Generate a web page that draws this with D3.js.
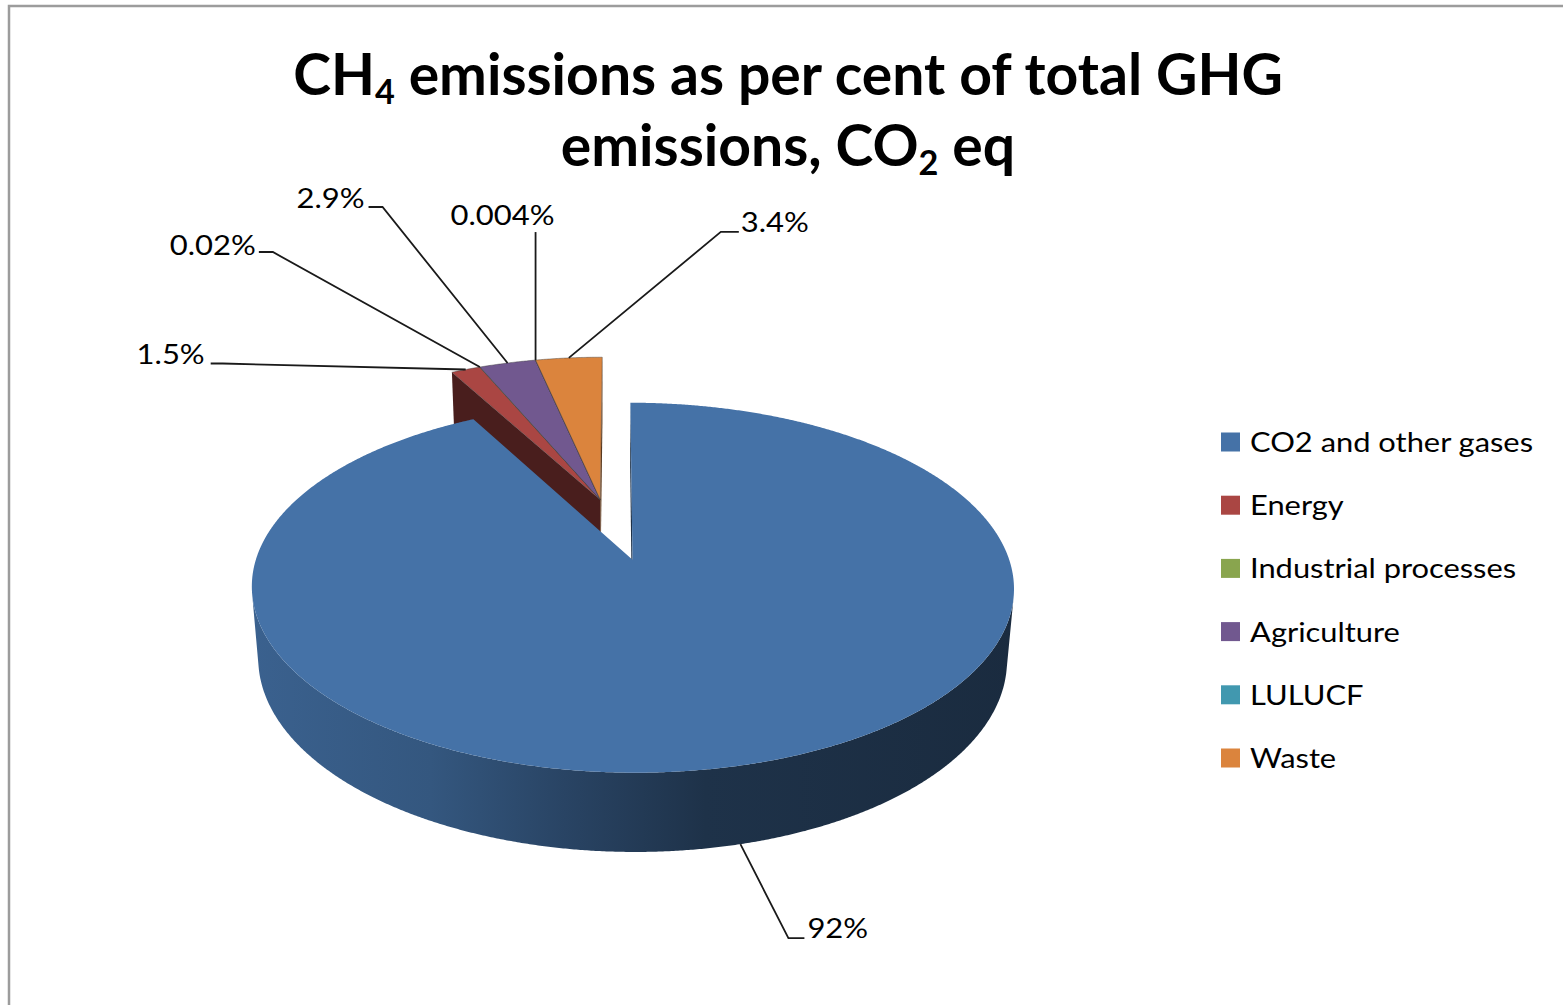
<!DOCTYPE html>
<html>
<head>
<meta charset="utf-8">
<script src="https://cdn.jsdelivr.net/npm/d3@7"></script>
<style>
  body { margin: 0; background: #fff; }
  svg { display: block; }
  text { font-family: Lato, "Open Sans", sans-serif; fill: #000; }
</style>
</head>
<body>
<svg id="chart" width="1563" height="1005"></svg>
<script>
// data
var categories = ["CO2 and other gases", "Energy", "Industrial processes", "Agriculture", "LULUCF", "Waste"];
var values = [92, 1.5, 0.02, 2.9, 0.004, 3.4];
var valueLabels = ["92%", "1.5%", "0.02%", "2.9%", "0.004%", "3.4%"];
var colors = ["#4572A7", "#AA4643", "#89A54E", "#71588F", "#4198AF", "#DB843D"];

// where each data label sits, relative to the point on its slice
var labelLayout = [
  {dx: 64, dy: 94, elbow: -16, tx: 3, ty: 0, anchor: "start"},
  {dx: -255, dy: -6, elbow: 12, tx: -6, ty: 0, anchor: "end"},
  {dx: -221, dy: -115, elbow: 14, tx: -3, ty: 3, anchor: "end"},
  {dx: -139, dy: -156, elbow: 14, tx: -4, ty: 1, anchor: "end"},
  {dx: 0, dy: -128, elbow: 0, tx: -33, ty: -7, anchor: "middle"},
  {dx: 170, dy: -126, elbow: -18, tx: 2, ty: 0, anchor: "start"}
];

var svg = d3.select("#chart");

// chart area frame (only top and left edges are inside the picture)
svg.append("rect")
  .attr("x", 9).attr("y", 6)
  .attr("width", 1700).attr("height", 1200)
  .attr("fill", "#fff")
  .attr("stroke", "#9c9c9c")
  .attr("stroke-width", 2.5);

// ---- 3d pie projection ----
var cx = 616, cy = 529, R = 367, dist = 6, tilt = 0.4675, ct = Math.sqrt(1 - tilt * tilt);
var explode = 0.18, depth = 0.219;
var F = R * dist;
var camV = dist * ct;   // camera position along the depth axis, in radii

function proj(u, v, h) {
  var zc = dist - v * ct - h * tilt;
  var yc = h * ct - v * tilt;
  return [cx + F * u / zc, cy - F * yc / zc];
}

var arcs = d3.pie().sort(null).value(function(d) { return d; })(values);

// the small slices are pulled away together, blue on its own
var restStart = arcs[1].startAngle, restEnd = arcs[arcs.length - 1].endAngle;
var slices = arcs.map(function(p, i) {
  var m = (p.startAngle + p.endAngle) / 2;
  var em = i == 0 ? m : (restStart + restEnd) / 2;
  return {i: i, group: i == 0 ? 0 : 1, a0: p.startAngle, a1: p.endAngle, m: m,
          ou: explode * Math.sin(em), ov: -explode * Math.cos(em)};
});

function rim(s, a0, a1, h) {
  var n = Math.max(2, Math.ceil((a1 - a0) / 0.005));
  return d3.range(n + 1).map(function(k) {
    var a = a0 + (a1 - a0) * k / n;
    return proj(s.ou + Math.sin(a), s.ov - Math.cos(a), h);
  });
}
function topFace(s) { return [proj(s.ou, s.ov, 0)].concat(rim(s, s.a0, s.a1, 0)); }

// does the outer wall at angle a face the camera?
function wallSeen(s, a) {
  return -1 - s.ou * Math.sin(a) - Math.cos(a) * (camV - s.ov) > 0;
}
// visible stretches of the outer wall
function wallFaces(s) {
  var n = Math.max(2, Math.ceil((s.a1 - s.a0) / 0.005)), runs = [], cur = null;
  for (var k = 0; k <= n; k++) {
    var a = s.a0 + (s.a1 - s.a0) * k / n;
    if (wallSeen(s, a)) {
      if (!cur) { cur = [a, a]; runs.push(cur); }
      cur[1] = a;
    } else cur = null;
  }
  return runs.map(function(r) {
    return rim(s, r[0], r[1], 0).concat(rim(s, r[0], r[1], -depth).reverse());
  });
}
function cutFace(s, a) {
  var u = s.ou + Math.sin(a), v = s.ov - Math.cos(a);
  return [proj(s.ou, s.ov, 0), proj(u, v, 0), proj(u, v, -depth), proj(s.ou, s.ov, -depth)];
}
// cut face normal points away from the slice body
function cutSeen(s, a, isStart) {
  var nu = isStart ? -Math.cos(a) : Math.cos(a);
  var nv = isStart ? -Math.sin(a) : Math.sin(a);
  return nu * (-s.ou) + nv * (camV - s.ov) > 0;
}

function shade(col, k) {
  var c = d3.rgb(col);
  return d3.rgb(c.r * k, c.g * k, c.b * k).formatHex();
}

var defs = svg.append("defs");
var shadeStops = [[0, 0.86], [0.25, 0.76], [0.42, 0.6], [0.6, 0.44], [1, 0.38]];
slices.forEach(function(s) {
  var g = defs.append("linearGradient")
    .attr("id", "wall" + s.i)
    .attr("gradientUnits", "userSpaceOnUse")
    .attr("x1", cx - R * 1.04).attr("x2", cx + R * 1.1)
    .attr("y1", 0).attr("y2", 0);
  shadeStops.forEach(function(st) {
    g.append("stop").attr("offset", st[0]).attr("stop-color", shade(colors[s.i], st[1]));
  });
});

var line = d3.line();
var pieG = svg.append("g").attr("class", "pie");

// back group first; inside a group all sides go under all tops,
// and only the cut faces on the outside of a group can be seen
var groups = d3.groups(slices, function(s) { return s.group; })
  .map(function(g) { return g[1]; })
  .sort(function(a, b) { return a[0].ov - b[0].ov; });

groups.forEach(function(members) {
  var g = pieG.append("g");
  var gStart = d3.min(members, function(s) { return s.a0; });
  var gEnd = d3.max(members, function(s) { return s.a1; });
  members.forEach(function(s) {
    [[s.a0, true], [s.a1, false]].forEach(function(c) {
      if (c[0] != gStart && c[0] != gEnd) return;
      if (!cutSeen(s, c[0], c[1])) return;
      g.append("path")
        .attr("d", line(cutFace(s, c[0])) + "Z")
        .attr("fill", shade(colors[s.i], 0.43));
    });
    wallFaces(s).forEach(function(w) {
      g.append("path")
        .attr("d", line(w) + "Z")
        .attr("fill", "url(#wall" + s.i + ")");
    });
  });
  members.forEach(function(s) {
    g.append("path")
      .attr("d", line(topFace(s)) + "Z")
      .attr("fill", colors[s.i])
      .attr("stroke", s.i == 0 ? "none" : "#3b3b3b")
      .attr("stroke-opacity", 0.55)
      .attr("stroke-width", 0.8)
      .attr("stroke-linejoin", "round");
  });
});

// ---- data labels + leader lines ----
function fitText(sel, k) {
  sel.each(function() {
    var w = this.getComputedTextLength();
    d3.select(this).attr("textLength", w * k).attr("lengthAdjust", "spacingAndGlyphs");
  });
}

var labelG = svg.append("g").attr("class", "labels");
var labelTexts = [];
slices.forEach(function(s) {
  var L = labelLayout[s.i];
  var front = Math.cos(s.m) < 0;
  var a = proj(s.ou + Math.sin(s.m), s.ov - Math.cos(s.m), front ? -depth : 0);
  var p = [a[0] + L.dx, a[1] + L.dy];
  var pts = L.elbow == 0 ? [a, p] : [a, [p[0] + L.elbow, p[1]], p];
  labelG.append("path")
    .attr("d", line(pts))
    .attr("fill", "none")
    .attr("stroke", "#1a1a1a")
    .attr("stroke-width", 1.8);
  var t = labelG.append("text")
    .attr("x", p[0] + L.tx)
    .attr("y", p[1] + L.ty)
    .attr("text-anchor", L.anchor)
    .attr("font-size", 26)
    .text(valueLabels[s.i]);
  labelTexts.push(t);
});
// stretch to the reference width of "0.004%"
var labelK = 104 / labelTexts[4].node().getComputedTextLength();
labelTexts.forEach(function(t) { fitText(t, labelK); });

// ---- title ----
var title = svg.append("g").attr("class", "title").attr("font-weight", 700);
function titleLine(y, before, sub, after) {
  var t = title.append("text").attr("x", 788).attr("y", y).attr("text-anchor", "middle");
  t.append("tspan").text(before);
  t.append("tspan").attr("class", "sub").attr("dy", 9).text(sub);
  t.append("tspan").attr("dy", -9).text(after);
  return t;
}
var t1 = titleLine(95, "CH", "4", " emissions as per cent of total GHG");
var t2 = titleLine(166, "emissions, CO", "2", " eq");
title.selectAll("text").attr("font-size", 60);
title.selectAll(".sub").attr("font-size", 36);
// size the title so line one spans the same width as the reference
var titleSize = 60 * 990 / t1.node().getComputedTextLength();
title.selectAll("text").attr("font-size", titleSize);
title.selectAll(".sub").attr("font-size", titleSize * 0.6);

// ---- legend ----
var legend = svg.append("g").attr("class", "legend").attr("transform", "translate(1221,442)");
var items = legend.selectAll("g").data(categories).enter().append("g")
  .attr("transform", function(d, i) { return "translate(0," + (i * 63.2) + ")"; });
items.append("rect")
  .attr("x", 0).attr("y", -9.5).attr("width", 19).attr("height", 19)
  .attr("fill", function(d, i) { return colors[i]; });
var legTexts = items.append("text")
  .attr("x", 29).attr("y", 10)
  .attr("font-size", 26)
  .text(function(d) { return d; });
var legK = 283 / legTexts.nodes()[0].getComputedTextLength();
fitText(legTexts, legK);
</script>
</body>
</html>
